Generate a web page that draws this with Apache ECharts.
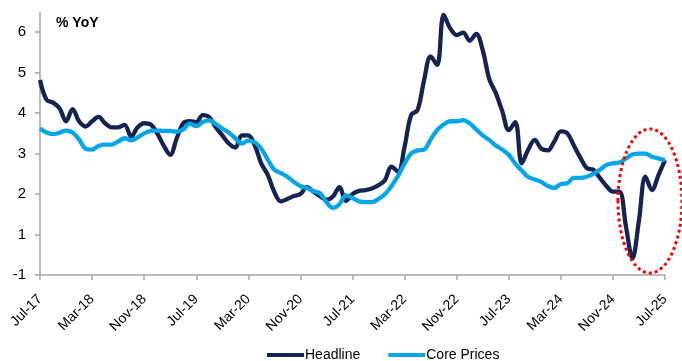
<!DOCTYPE html>
<html>
<head>
<meta charset="utf-8">
<script src="https://cdn.jsdelivr.net/npm/echarts@6/dist/echarts.min.js"></script>
<style>
html,body{margin:0;padding:0;background:#fff;}
#chart{width:682px;height:361px;}
</style>
</head>
<body>
<div id="chart"></div>
<script>
// Monthly data Jul-17 .. Jul-25
var monthNames = ['Jan','Feb','Mar','Apr','May','Jun','Jul','Aug','Sep','Oct','Nov','Dec'];
var startYear = 2017, startMonth = 6, monthCount = 97;
var categories = [];
for (var k = 0; k < monthCount; k++) {
  var m = (startMonth + k) % 12;
  var y = startYear + Math.floor((startMonth + k) / 12);
  categories.push(monthNames[m] + '-' + String(y).slice(2));
}

var headline = [
  4.82, 4.33, 4.26, 4.12, 3.80, 4.10, 3.80, 3.67, 3.80, 3.91,
  3.75, 3.65, 3.65, 3.71, 3.42, 3.65, 3.75, 3.72, 3.50, 3.20,
  2.97, 3.38, 3.75, 3.80, 3.78, 3.95, 3.90, 3.65, 3.45, 3.25,
  3.15, 3.45, 3.45, 3.20, 2.75, 2.47, 2.05, 1.82, 1.88, 1.95,
  2.00, 2.17, 2.06, 1.95, 1.86, 1.94, 2.17, 1.83, 2.00, 2.08,
  2.10, 2.14, 2.22, 2.35, 2.68, 2.55, 3.17, 3.95, 4.08, 4.82,
  5.40, 5.19, 6.43, 6.10, 5.93, 5.99, 5.79, 5.96, 5.56, 4.85,
  4.50, 4.05, 3.58, 3.78, 2.76, 3.10, 3.34, 3.12, 3.08, 3.30,
  3.55, 3.50, 3.20, 2.90, 2.64, 2.60, 2.40, 2.20, 2.06, 2.06,
  1.20, 0.41, 1.35, 2.43, 2.10, 2.47, 2.84
];

var corePrices = [
  3.62, 3.52, 3.48, 3.52, 3.57, 3.52, 3.35, 3.12, 3.10, 3.19,
  3.22, 3.22, 3.30, 3.38, 3.33, 3.40, 3.50, 3.56, 3.57, 3.56,
  3.56, 3.54, 3.60, 3.74, 3.68, 3.78, 3.82, 3.73, 3.62, 3.52,
  3.38, 3.25, 3.32, 3.28, 3.12, 2.85, 2.60, 2.52, 2.43, 2.30,
  2.20, 2.15, 2.07, 2.02, 1.80, 1.66, 1.75, 1.97, 1.90, 1.82,
  1.80, 1.80, 1.88, 2.00, 2.20, 2.45, 2.75, 3.00, 3.08, 3.10,
  3.35, 3.58, 3.72, 3.80, 3.80, 3.83, 3.75, 3.60, 3.45, 3.34,
  3.20, 3.10, 2.97, 2.75, 2.58, 2.42, 2.36, 2.30, 2.20, 2.15,
  2.25, 2.27, 2.40, 2.40, 2.43, 2.50, 2.60, 2.72, 2.76, 2.78,
  2.88, 2.98, 3.00, 3.00, 2.92, 2.88, 2.84
];

var yTickValues = [0, 1, 2, 3, 4, 5, 6];
var yTickLabels = ['-1', '1', '2', '3', '4', '5', '6'];

var chart = echarts.init(document.getElementById('chart'), null, {renderer: 'canvas'});
var FONT = '"Liberation Sans", Arial, sans-serif';
var axisGray = '#a6a6a6';

chart.setOption({
  animation: false,
  backgroundColor: '#ffffff',
  grid: {left: 40, right: 17, top: 12, bottom: 86, containLabel: false},
  title: {
    text: '% YoY', left: 51, top: 11,
    textStyle: {fontFamily: FONT, fontSize: 14, fontWeight: 'bold', color: '#000'}
  },
  legend: {
    left: 262, top: 343,
    itemWidth: 37, itemHeight: 4, itemGap: 28,
    icon: 'rect',
    textStyle: {fontFamily: FONT, fontSize: 14, color: '#000', padding: [0, 0, 0, -4]},
    data: ['Headline', 'Core Prices']
  },
  xAxis: {
    type: 'category',
    data: categories,
    boundaryGap: false,
    axisLine: {lineStyle: {color: axisGray, width: 1.5}},
    axisTick: {show: true, interval: 7, length: 5, lineStyle: {color: axisGray, width: 1.5}},
    axisLabel: {
      interval: 7, rotate: 45, margin: 22,
      fontFamily: FONT, fontSize: 14, color: '#000'
    },
    splitLine: {show: false}
  },
  yAxis: {
    type: 'value',
    min: 0, max: 6.5,
    axisLine: {show: true, lineStyle: {color: axisGray, width: 1.5}},
    axisTick: {show: true, length: 5, customValues: yTickValues, lineStyle: {color: axisGray, width: 1.5}},
    axisLabel: {
      customValues: yTickValues,
      margin: 14,
      fontFamily: FONT, fontSize: 15, color: '#000',
      formatter: function (v) {
        var idx = yTickValues.indexOf(v);
        return idx >= 0 ? yTickLabels[idx] : '';
      }
    },
    splitLine: {show: false}
  },
  series: [
    {
      name: 'Headline', type: 'line', data: headline,
      smooth: 0.35, symbol: 'none',
      lineStyle: {color: '#152353', width: 4.3},
      itemStyle: {color: '#152353'}
    },
    {
      name: 'Core Prices', type: 'line', data: corePrices,
      smooth: 0.35, symbol: 'none',
      lineStyle: {color: '#05a6e8', width: 4.3},
      itemStyle: {color: '#05a6e8'}
    }
  ],
  graphic: [
    {
      type: 'ellipse',
      shape: {cx: 650, cy: 201, rx: 32, ry: 72},
      style: {fill: 'none', stroke: '#ff0000', lineWidth: 3, lineDash: [3, 3]},
      z: 100
    }
  ]
});
</script>
</body>
</html>
